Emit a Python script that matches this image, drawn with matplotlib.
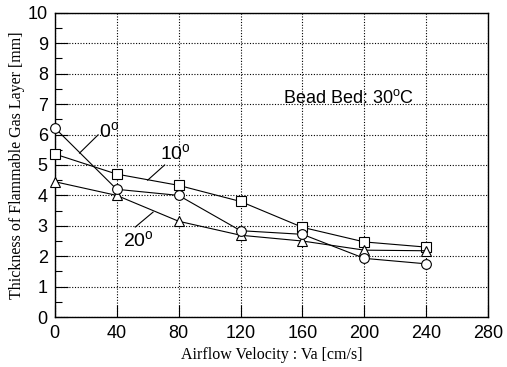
import numpy as np
import matplotlib.pyplot as plt
from matplotlib.ticker import MultipleLocator

plt.rcParams['mathtext.fontset'] = 'custom'
plt.rcParams['mathtext.rm'] = 'Liberation Sans'
plt.rcParams['mathtext.it'] = 'Liberation Sans'

# Airflow velocity [cm/s]
velocity = [0, 40, 80, 120, 160, 200, 240]

# Thickness of flammable gas layer [mm] for each inclination angle
thick_0deg = [6.22, 4.2, 4.0, 2.84, 2.72, 1.93, 1.75]
thick_10deg = [5.36, 4.7, 4.33, 3.8, 2.95, 2.47, 2.3]
thick_20deg = [4.45, 4.0, 3.15, 2.69, 2.5, 2.2, 2.18]

sans = 'Liberation Sans'
serif = 'Liberation Serif'

fig = plt.figure(figsize=(5.07, 3.67), dpi=100)
ax = fig.add_axes([0.108, 0.136, 0.855, 0.829])

mk = dict(color='black', lw=0.8, mfc='white', mec='black', mew=0.8, ms=7, clip_on=False, zorder=3)
ax.plot(velocity, thick_10deg, marker='s', **mk)
ax.plot(velocity, thick_20deg, marker='^', **mk)
ax.plot(velocity, thick_0deg, marker='o', **mk)

ax.set_xlim(0, 280)
ax.set_ylim(0, 10)
ax.xaxis.set_major_locator(MultipleLocator(40))
ax.yaxis.set_major_locator(MultipleLocator(1))
ax.yaxis.set_minor_locator(MultipleLocator(0.5))
ax.tick_params(axis='both', which='major', direction='in', length=9, width=0.8, labelsize=13)
ax.tick_params(axis='y', which='minor', direction='in', length=5, width=0.8)
ax.tick_params(axis='x', which='major', pad=6)
ax.tick_params(axis='y', which='major', pad=5)
for lab in ax.get_xticklabels() + ax.get_yticklabels():
    lab.set_family(sans)
for sp in ax.spines.values():
    sp.set_linewidth(1.0)

ax.grid(True, which='major', color='black', linestyle=(0, (1, 1.5)), linewidth=0.8)

ax.set_xlabel('Airflow Velocity : Va [cm/s]', family=serif, fontsize=11.5, labelpad=3)
ax.set_ylabel('Thickness of Flammable Gas Layer [mm]', family=serif, fontsize=11.5, labelpad=2)

# curve labels with leader lines
ax.text(35, 5.8, r'0$^{\mathrm{o}}$', family=sans, fontsize=14, ha='center', va='bottom')
ax.plot([28, 16], [5.99, 5.39], color='black', lw=0.8)
ax.text(78, 5.08, r'10$^{\mathrm{o}}$', family=sans, fontsize=14, ha='center', va='bottom')
ax.plot([71, 60], [5.0, 4.5], color='black', lw=0.8)
ax.text(54, 2.2, r'20$^{\mathrm{o}}$', family=sans, fontsize=14, ha='center', va='bottom')
ax.plot([52, 63.5], [2.96, 3.45], color='black', lw=0.8)

ax.text(190, 7.2, r'Bead Bed: 30$^{\mathrm{o}}$C', family=sans, fontsize=13, ha='center', va='center')

fig.savefig('out.png', dpi=100)
